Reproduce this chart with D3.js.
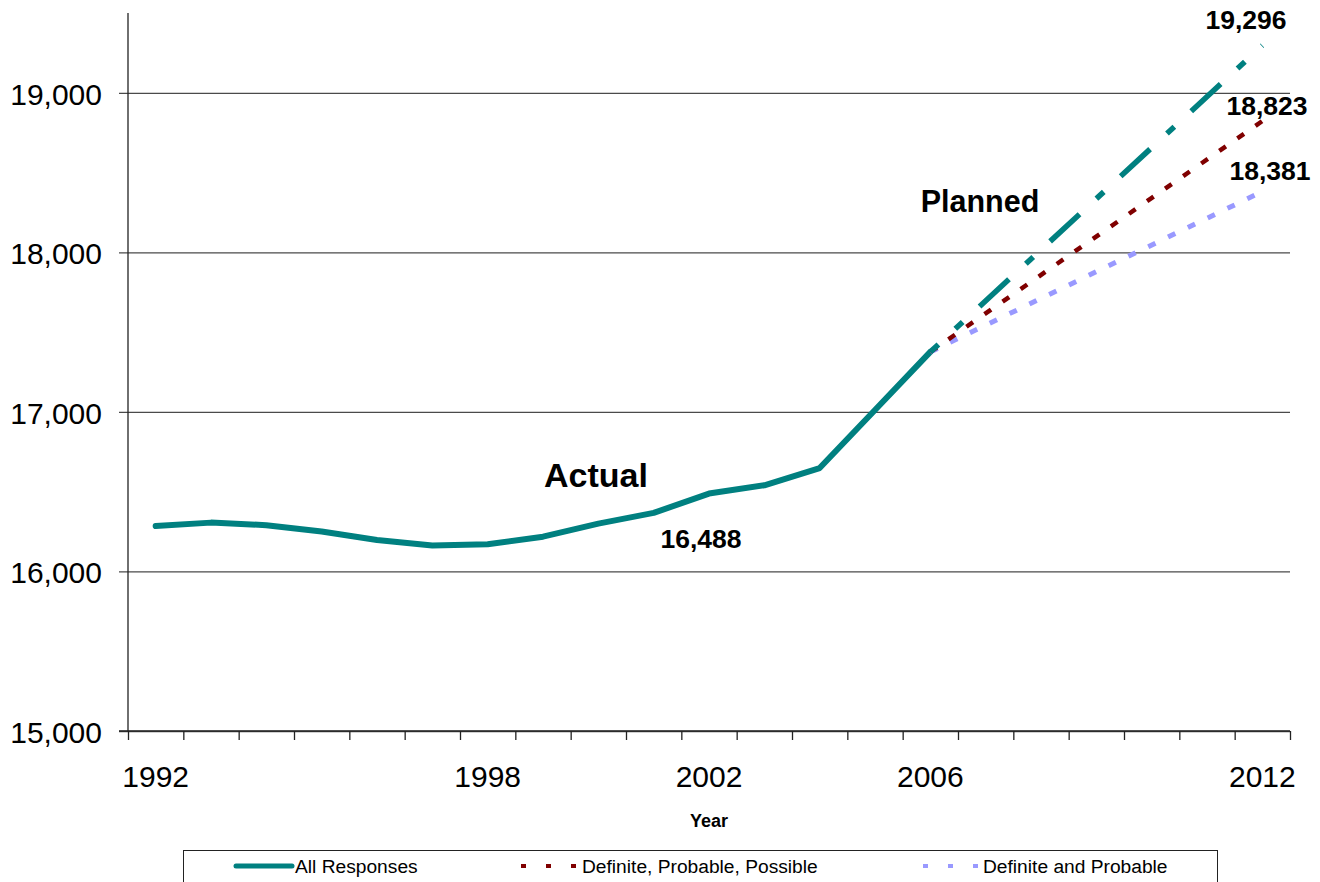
<!DOCTYPE html>
<html>
<head>
<meta charset="utf-8">
<script src="https://cdn.jsdelivr.net/npm/d3@7/dist/d3.min.js"></script>
<style>
  body { margin: 0; background: #fff; }
  svg { font-family: "Liberation Sans", Arial, sans-serif; }
  .axis path { display: none; }
</style>
</head>
<body>
<svg id="chart" width="1320" height="882"></svg>
<script>

// categories on the x axis (one band per year)
var years = ["1992","1993","1994","1995","1996","1997","1998","1999","2000","2001","2002",
             "2003","2004","2005","2006","2007","2008","2009","2010","2011","2012"];
var labelYears = ["1992","1998","2002","2006","2012"];
var yTicks = [15000, 16000, 17000, 18000, 19000];

// actual enrolment, 1992-2006
var actualYears = ["1992","1993","1994","1995","1996","1997","1998","1999","2000","2001","2002","2003","2004","2005","2006"];
var actualValues = [16285, 16306, 16290, 16250, 16197, 16162, 16170, 16218, 16300, 16367, 16488, 16540, 16648, 17012, 17376];

// planned, 2006 -> 2012
var plannedYears = ["2006", "2012"];
var allResponses = [17376, 19296];
var defProbPoss = [17376, 18823];
var defProb = [17376, 18381];

var svg = d3.select("#chart");

var pLeft = 128, pRight = 1290, pTop = 13, pBottom = 731;

var x = d3.scaleBand().domain(years).range([pLeft, pRight]).padding(0);
var xi = d3.scaleLinear().domain([0, years.length]).range([pLeft, pRight]);
var y = d3.scaleLinear().domain([15000, 19500]).range([pBottom, pTop]);

var cx = d => x(d) + x.bandwidth() / 2;

// gridlines (they run a little past the y axis, like ticks)
svg.append("g")
    .attr("class", "axis grid")
    .attr("transform", "translate(" + (pLeft - 9) + ",0)")
    .call(d3.axisLeft(y).tickValues(yTicks).tickSize(-(pRight - pLeft + 9)).tickFormat(""))
    .selectAll("line")
    .attr("stroke", "#4a4a4a")
    .attr("stroke-width", 1.3);

// y labels
svg.append("g")
    .attr("class", "axis")
    .attr("transform", "translate(" + pLeft + ",0)")
    .call(d3.axisLeft(y).tickValues(yTicks).tickSize(0).tickPadding(26).tickFormat(d3.format(",")))
    .selectAll("text")
    .attr("font-size", 30)
    .attr("font-family", "Liberation Sans, Arial, sans-serif")
    .attr("fill", "#000")
    .attr("dy", "0.38em");

// y axis line
svg.append("line")
    .attr("x1", pLeft).attr("x2", pLeft)
    .attr("y1", pTop).attr("y2", pBottom)
    .attr("stroke", "#222")
    .attr("stroke-width", 1.3);

// x ticks on band edges
svg.append("g")
    .attr("class", "axis")
    .attr("transform", "translate(0," + pBottom + ")")
    .call(d3.axisBottom(xi).tickValues(d3.range(years.length + 1)).tickSize(9).tickFormat(""))
    .selectAll("line")
    .attr("stroke", "#222")
    .attr("stroke-width", 1.3);

svg.append("line")
    .attr("x1", pLeft - 9).attr("x2", pRight)
    .attr("y1", pBottom).attr("y2", pBottom)
    .attr("stroke", "#222")
    .attr("stroke-width", 1.3);

// x labels
svg.append("g")
    .attr("class", "axis")
    .attr("transform", "translate(0," + pBottom + ")")
    .call(d3.axisBottom(x).tickValues(labelYears).tickSize(0))
    .selectAll("text")
    .attr("font-size", 30)
    .attr("font-family", "Liberation Sans, Arial, sans-serif")
    .attr("fill", "#000")
    .attr("dy", null)
    .attr("y", 56);

svg.append("text")
    .attr("x", 709).attr("y", 827)
    .attr("text-anchor", "middle")
    .attr("font-size", 18)
    .attr("font-weight", "bold")
    .text("Year");

// lines
var line = d3.line()
    .x(d => cx(d[0]))
    .y(d => y(d[1]));

var planned = [
    {values: allResponses, color: "#008080", width: 5.5, dash: "40,23,10,23", offset: 29},
    {values: defProbPoss, color: "#800000", width: 4.5, dash: "8,14", offset: 0},
    {values: defProb, color: "#9999ff", width: 5, dash: "8,14", offset: 0}
];

svg.append("path")
    .datum(d3.zip(actualYears, actualValues))
    .attr("d", line)
    .attr("fill", "none")
    .attr("stroke", "#008080")
    .attr("stroke-width", 6)
    .attr("stroke-linejoin", "round")
    .attr("stroke-linecap", "round");

svg.selectAll(".planned")
    .data(planned.slice().reverse())
    .enter().append("path")
    .attr("class", "planned")
    .attr("d", d => line(d3.zip(plannedYears, d.values)))
    .attr("fill", "none")
    .attr("stroke", d => d.color)
    .attr("stroke-width", d => d.width)
    .attr("stroke-dasharray", d => d.dash)
    .attr("stroke-dashoffset", d => d.offset);

// annotations
var notes = [
    {t: "19,296", x: 1246, y: 29, s: 26.5},
    {t: "18,823", x: 1267, y: 115, s: 26.5},
    {t: "18,381", x: 1270, y: 180, s: 26.5},
    {t: "16,488", x: 701, y: 548, s: 26.5},
    {t: "Planned", x: 980, y: 212, s: 30.5},
    {t: "Actual", x: 596, y: 487, s: 34}
];

svg.selectAll(".note")
    .data(notes)
    .enter().append("text")
    .attr("class", "note")
    .attr("x", d => d.x)
    .attr("y", d => d.y)
    .attr("text-anchor", "middle")
    .attr("font-size", d => d.s)
    .attr("font-weight", "bold")
    .text(d => d.t);

// legend
var lg = svg.append("g");
lg.append("rect")
    .attr("x", 183.5).attr("y", 850.5)
    .attr("width", 1034).attr("height", 45)
    .attr("fill", "#fff")
    .attr("stroke", "#222")
    .attr("stroke-width", 1);

var legendItems = [
    {name: "All Responses", color: "#008080", x1: 236, x2: 292, width: 5, dash: null, cap: "round", tx: 295},
    {name: "Definite, Probable, Possible", color: "#800000", x1: 521, x2: 578, width: 4, dash: "5,20", cap: "butt", tx: 582},
    {name: "Definite and Probable", color: "#9999ff", x1: 923, x2: 980, width: 4, dash: "5,20", cap: "butt", tx: 983}
];

var item = lg.selectAll(".item")
    .data(legendItems)
    .enter().append("g")
    .attr("class", "item");

item.append("line")
    .attr("x1", d => d.x1).attr("x2", d => d.x2)
    .attr("y1", 866).attr("y2", 866)
    .attr("stroke", d => d.color)
    .attr("stroke-width", d => d.width)
    .attr("stroke-linecap", d => d.cap)
    .attr("stroke-dasharray", d => d.dash);

item.append("text")
    .attr("x", d => d.tx)
    .attr("y", 872.5)
    .attr("font-size", 19.2)
    .text(d => d.name);

</script>
</body>
</html>
